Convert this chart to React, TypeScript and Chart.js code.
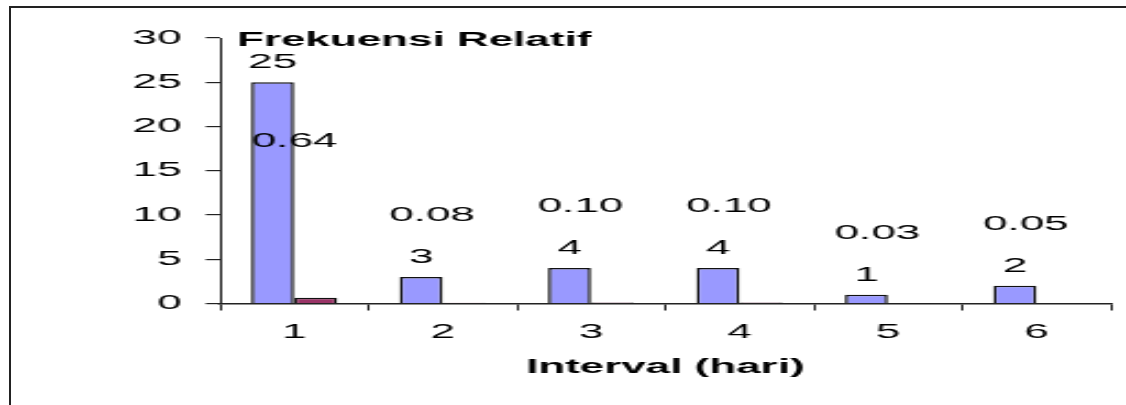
import React, { useEffect, useRef } from "react";
import { Chart, registerables } from "chart.js";

Chart.register(...registerables);

// ---- data ----
const categories = ["1", "2", "3", "4", "5", "6"];
const frequency = [25, 3, 4, 4, 1, 2];
const relativeFrequency = [0.64, 0.08, 0.1, 0.1, 0.03, 0.05];
const yMin = 0;
const yMax = 30;
const yStep = 5;
const yTitle = "Frekuensi Relatif";
const xTitle = "Interval (hari)";

const FONT = "'Liberation Sans', Arial, Helvetica, sans-serif";
const W = 512; // internal canvas width (stretched horizontally like the source picture)
const H = 405;
const DISPLAY_W = 1126;

const labelPlugin = {
  id: "valueLabels",
  afterDatasetsDraw(chart: any) {
    const ctx = chart.ctx as CanvasRenderingContext2D;
    const area = chart.chartArea;
    const m0 = chart.getDatasetMeta(0);
    ctx.save();
    ctx.fillStyle = "#000";
    ctx.textAlign = "center";
    ctx.textBaseline = "alphabetic";
    ctx.font = `20px ${FONT}`;
    m0.data.forEach((bar: any, i: number) => {
      ctx.fillText(String(frequency[i]), bar.x, bar.y - 14);
      let y = bar.y - 56;
      let dx = 5;
      if (y - 16 < area.top + 10) {
        y = bar.y + 65;
        dx = 10;
      }
      ctx.fillText(relativeFrequency[i].toFixed(2), bar.x + dx, y);
    });
    ctx.textAlign = "left";
    ctx.font = `bold 20px ${FONT}`;
    ctx.fillText(yTitle, area.left + 7.7, 46);
    ctx.restore();
  },
};

export default function App() {
  const ref = useRef<HTMLCanvasElement | null>(null);

  useEffect(() => {
    const canvas = ref.current;
    if (!canvas) return;
    const chart = new Chart(canvas, {
      type: "bar",
      data: {
        labels: categories,
        datasets: [
          {
            label: "Frekuensi",
            data: frequency,
            backgroundColor: "#9999FF",
            borderColor: "#111",
            borderWidth: 1.5,
            categoryPercentage: 0.58,
            barPercentage: 1.0,
          },
          {
            label: "Frekuensi Relatif",
            data: relativeFrequency,
            backgroundColor: "#993366",
            borderColor: "#111",
            borderWidth: 1.5,
            categoryPercentage: 0.58,
            barPercentage: 1.0,
          },
        ],
      },
      options: {
        responsive: false,
        animation: false,
        devicePixelRatio: 1,
        layout: { padding: { left: 10, right: 7, top: 38, bottom: 21.5 } },
        plugins: {
          legend: { display: false },
          tooltip: { enabled: false },
          title: { display: false },
        },
        scales: {
          x: {
            grid: {
              display: true,
              drawOnChartArea: false,
              drawTicks: true,
              tickLength: 7,
              color: "#222",
              offset: true,
            },
            border: { display: true, color: "#222", width: 1.5 },
            ticks: {
              color: "#000",
              font: { family: FONT, size: 20 },
              padding: 10,
              autoSkip: false,
              maxRotation: 0,
            },
            title: {
              display: true,
              text: xTitle,
              color: "#000",
              font: { family: FONT, size: 20, weight: "bold" },
              padding: { top: 0, bottom: 4 },
            },
            afterFit(scale: any) {
              scale.height = 80;
              scale.paddingLeft = 0;
              scale.paddingRight = 0;
            },
          },
          y: {
            min: yMin,
            max: yMax,
            grid: {
              display: true,
              drawOnChartArea: false,
              drawTicks: true,
              tickLength: 6.5,
              color: "#222",
              lineWidth: 1.2,
            },
            border: { display: true, color: "#222", width: 1 },
            ticks: {
              stepSize: yStep,
              color: "#000",
              font: { family: FONT, size: 20 },
              padding: 11,
            },
            afterFit(scale: any) {
              scale.width = 90;
              scale.paddingTop = 0;
              scale.paddingBottom = 0;
            },
          },
        },
      },
      plugins: [labelPlugin],
    });
    return () => chart.destroy();
  }, []);

  return (
    <div
      style={{
        position: "fixed",
        left: 0,
        top: 0,
        width: DISPLAY_W,
        height: H,
        overflow: "hidden",
        background: "#fff",
      }}
    >
      <div
        style={{
          position: "absolute",
          left: 9,
          top: 6,
          width: 1300,
          height: 600,
          borderTop: "2px solid #222",
          borderLeft: "2px solid #222",
        }}
      />
      <canvas
        ref={ref}
        width={W}
        height={H}
        style={{
          position: "absolute",
          left: 0,
          top: 0,
          width: DISPLAY_W + "px",
          height: H + "px",
        }}
      />
    </div>
  );
}
